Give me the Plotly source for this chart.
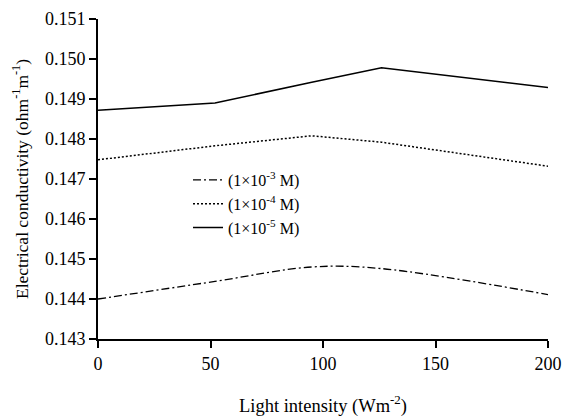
import plotly.graph_objects as go

# light intensity (W m^-2)
light = [0, 52, 95, 126, 200]

# electrical conductivity (ohm^-1 m^-1)
cond_1e3 = [0.14400, 0.14444, 0.14480, 0.14476, 0.14411]
cond_1e4 = [0.14748, 0.14783, 0.14808, 0.14792, 0.14732]
cond_1e5 = [0.14872, 0.14890, 0.14942, 0.14978, 0.14929]

names = ['(1×10<sup>-3</sup> M)', '(1×10<sup>-4</sup> M)', '(1×10<sup>-5</sup> M)']

font = 'Liberation Serif'

fig = go.Figure()
fig.add_trace(go.Scatter(x=light, y=cond_1e3, name=names[0], mode='lines', cliponaxis=False,
                         line=dict(color='black', width=1.3, dash='8px,3px,2px,3px', shape='spline')))
fig.add_trace(go.Scatter(x=light, y=cond_1e4, name=names[1], mode='lines', cliponaxis=False,
                         line=dict(color='black', width=1.5, dash='2px,2px')))
fig.add_trace(go.Scatter(x=light, y=cond_1e5, name=names[2], mode='lines', cliponaxis=False,
                         line=dict(color='black', width=1.5)))

fig.update_xaxes(range=[0, 200], tickvals=[0, 50, 100, 150, 200], automargin=False,
                 showline=True, linecolor='black', linewidth=2,
                 ticks='outside', ticklen=7, tickwidth=2, tickcolor='black',
                 showgrid=False, zeroline=False,
                 title=dict(text='Light intensity (Wm<sup>-2</sup>)', standoff=26,
                            font=dict(family=font, size=18.5)),
                 tickfont=dict(family=font, size=18))
fig.update_yaxes(range=[0.143, 0.151], dtick=0.001, tickformat='.3f', automargin=False,
                 showline=True, linecolor='black', linewidth=2,
                 ticks='outside', ticklen=7, tickwidth=2, tickcolor='black',
                 showgrid=False, zeroline=False,
                 title=dict(text='Electrical conductivity (ohm<sup>-1</sup>m<sup>-1</sup>)', standoff=12,
                            font=dict(family=font, size=17.5)),
                 tickfont=dict(family=font, size=18))

fig.update_layout(
    width=563, height=417,
    margin=dict(l=98, r=15, t=19, b=78),
    plot_bgcolor='white', paper_bgcolor='white',
    font=dict(family=font, size=17, color='black'),
    showlegend=True,
    legend=dict(x=0.2, y=0.55, xanchor='left', yanchor='top',
                bgcolor='rgba(0,0,0,0)', font=dict(family=font, size=16),
                tracegroupgap=0),
)

# drop the default 8px body margin so the figure fills the window
fig.write_html("out.html", config={'displayModeBar': False},
               post_script="document.body.style.margin='0';")
